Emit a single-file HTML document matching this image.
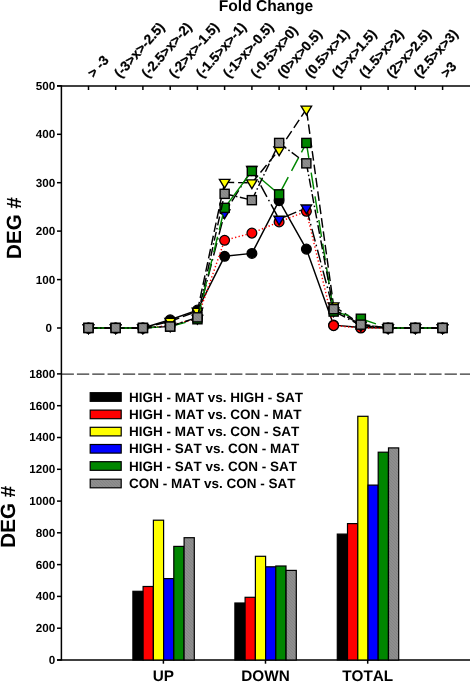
<!DOCTYPE html>
<html><head><meta charset="utf-8"><title>DEG chart</title>
<style>
html,body{margin:0;padding:0;background:#fff;}
body{width:470px;height:682px;overflow:hidden;font-family:"Liberation Sans",sans-serif;}
svg{display:block;}
text{font-kerning:none;text-rendering:geometricPrecision;font-feature-settings:'kern' 0;}
</style></head><body>
<svg width="470" height="682" viewBox="0 0 470 682">
<rect width="470" height="682" fill="#fff"/>
<defs><pattern id="hg" width="3" height="3" patternUnits="userSpaceOnUse"><rect width="3" height="3" fill="#8e8e8e"/><path d="M-1 -1 L4 4 M-1 2 L1 4 M2 -1 L4 1" stroke="#838383" stroke-width="0.8"/></pattern></defs>
<g stroke="#000" stroke-width="1.5" fill="none">
<line x1="61.4" y1="85.3" x2="61.4" y2="660.4"/>
<line x1="57" y1="85.9" x2="470" y2="85.9"/>
<line x1="57" y1="660.0" x2="470" y2="660.0"/>
<line x1="88.5" y1="85.9" x2="88.5" y2="90.0"/>
<line x1="115.7" y1="85.9" x2="115.7" y2="90.0"/>
<line x1="142.9" y1="85.9" x2="142.9" y2="90.0"/>
<line x1="170.2" y1="85.9" x2="170.2" y2="90.0"/>
<line x1="197.4" y1="85.9" x2="197.4" y2="90.0"/>
<line x1="224.6" y1="85.9" x2="224.6" y2="90.0"/>
<line x1="251.9" y1="85.9" x2="251.9" y2="90.0"/>
<line x1="279.1" y1="85.9" x2="279.1" y2="90.0"/>
<line x1="306.4" y1="85.9" x2="306.4" y2="90.0"/>
<line x1="333.6" y1="85.9" x2="333.6" y2="90.0"/>
<line x1="360.8" y1="85.9" x2="360.8" y2="90.0"/>
<line x1="388.1" y1="85.9" x2="388.1" y2="90.0"/>
<line x1="415.3" y1="85.9" x2="415.3" y2="90.0"/>
<line x1="442.6" y1="85.9" x2="442.6" y2="90.0"/>
<line x1="57" y1="328.0" x2="61.4" y2="328.0"/>
<line x1="57" y1="279.6" x2="61.4" y2="279.6"/>
<line x1="57" y1="231.1" x2="61.4" y2="231.1"/>
<line x1="57" y1="182.7" x2="61.4" y2="182.7"/>
<line x1="57" y1="134.3" x2="61.4" y2="134.3"/>
<line x1="57" y1="85.8" x2="61.4" y2="85.8"/>
<line x1="57" y1="660.0" x2="61.4" y2="660.0"/>
<line x1="57" y1="628.2" x2="61.4" y2="628.2"/>
<line x1="57" y1="596.4" x2="61.4" y2="596.4"/>
<line x1="57" y1="564.6" x2="61.4" y2="564.6"/>
<line x1="57" y1="532.8" x2="61.4" y2="532.8"/>
<line x1="57" y1="501.1" x2="61.4" y2="501.1"/>
<line x1="57" y1="469.3" x2="61.4" y2="469.3"/>
<line x1="57" y1="437.5" x2="61.4" y2="437.5"/>
<line x1="57" y1="405.7" x2="61.4" y2="405.7"/>
<line x1="57" y1="373.9" x2="61.4" y2="373.9"/>
<line x1="163.4" y1="660" x2="163.4" y2="663.7"/>
<line x1="265.5" y1="660" x2="265.5" y2="663.7"/>
<line x1="367.7" y1="660" x2="367.7" y2="663.7"/>
</g>
<line x1="61.6" y1="374.1" x2="470" y2="374.1" stroke="#000" stroke-width="1" stroke-dasharray="12.3,3.02"/>
<g font-family="Liberation Sans, sans-serif" font-weight="bold" font-size="11.7px" text-anchor="end" fill="#000" style="filter:grayscale(1)">
<text x="52.1" y="331.9">0</text>
<text x="55.3" y="283.5">100</text>
<text x="55.3" y="235.0">200</text>
<text x="55.3" y="186.6">300</text>
<text x="55.3" y="138.2">400</text>
<text x="55.3" y="89.8">500</text>
<text x="55.3" y="663.9">0</text>
<text x="55.3" y="632.1">200</text>
<text x="55.3" y="600.3">400</text>
<text x="55.3" y="568.5">600</text>
<text x="55.3" y="536.7">800</text>
<text x="55.3" y="505.0">1000</text>
<text x="55.3" y="473.2">1200</text>
<text x="55.3" y="441.4">1400</text>
<text x="55.3" y="409.6">1600</text>
<text x="55.3" y="377.8">1800</text>
</g>
<g font-family="Liberation Sans, sans-serif" font-weight="bold" fill="#000" style="filter:grayscale(1)">
<text x="266" y="11.3" font-size="15.6px" text-anchor="middle">Fold Change</text>
<text transform="translate(21.4,228) rotate(-90)" font-size="20.6px" text-anchor="middle">DEG #</text>
<text transform="translate(15.3,516.8) rotate(-90)" font-size="20.6px" text-anchor="middle">DEG #</text>
<text x="163.4" y="681.2" font-size="15.3px" text-anchor="middle">UP</text>
<text x="265.5" y="681.2" font-size="15.3px" text-anchor="middle">DOWN</text>
<text x="367.7" y="681.2" font-size="15.3px" text-anchor="middle">TOTAL</text>
<text transform="translate(93.8,78.5) rotate(-48.5)" font-size="13.6px" stroke="#000" stroke-width="0.25">&gt; -3</text>
<text transform="translate(120.2,78.5) rotate(-48.5)" font-size="13.6px" stroke="#000" stroke-width="0.25">(-3&gt;x&gt;-2.5)</text>
<text transform="translate(147.4,78.5) rotate(-48.5)" font-size="13.6px" stroke="#000" stroke-width="0.25">(-2.5&gt;x&gt;-2)</text>
<text transform="translate(174.7,78.5) rotate(-48.5)" font-size="13.6px" stroke="#000" stroke-width="0.25">(-2&gt;x&gt;-1.5)</text>
<text transform="translate(201.9,78.5) rotate(-48.5)" font-size="13.6px" stroke="#000" stroke-width="0.25">(-1.5&gt;x&gt;-1)</text>
<text transform="translate(229.1,78.5) rotate(-48.5)" font-size="13.6px" stroke="#000" stroke-width="0.25">(-1&gt;x&gt;-0.5)</text>
<text transform="translate(256.4,78.5) rotate(-48.5)" font-size="13.6px" stroke="#000" stroke-width="0.25">(-0.5&gt;x&gt;0)</text>
<text transform="translate(283.6,78.5) rotate(-48.5)" font-size="13.6px" stroke="#000" stroke-width="0.25">(0&gt;x&gt;0.5)</text>
<text transform="translate(310.9,78.5) rotate(-48.5)" font-size="13.6px" stroke="#000" stroke-width="0.25">(0.5&gt;x&gt;1)</text>
<text transform="translate(338.1,78.5) rotate(-48.5)" font-size="13.6px" stroke="#000" stroke-width="0.25">(1&gt;x&gt;1.5)</text>
<text transform="translate(365.3,78.5) rotate(-48.5)" font-size="13.6px" stroke="#000" stroke-width="0.25">(1.5&gt;x&gt;2)</text>
<text transform="translate(392.6,78.5) rotate(-48.5)" font-size="13.6px" stroke="#000" stroke-width="0.25">(2&gt;x&gt;2.5)</text>
<text transform="translate(419.8,78.5) rotate(-48.5)" font-size="13.6px" stroke="#000" stroke-width="0.25">(2.5&gt;x&gt;3)</text>
<text transform="translate(447.1,78.5) rotate(-48.5)" font-size="13.6px" stroke="#000" stroke-width="0.25">&gt;3</text>
</g>
<polyline points="88.5,328.0 115.7,328.0 142.9,328.0 170.2,319.8 197.4,310.1 224.6,256.3 251.9,253.4 279.1,200.6 306.4,249.1 333.6,325.1 360.8,327.5 388.1,328.0 415.3,328.0 442.6,328.0" fill="none" stroke="#000" stroke-width="1.45" stroke-linejoin="round"/>
<circle cx="88.5" cy="328.0" r="4.9" fill="#000" stroke="#000" stroke-width="1.25"/><circle cx="115.7" cy="328.0" r="4.9" fill="#000" stroke="#000" stroke-width="1.25"/><circle cx="142.9" cy="328.0" r="4.9" fill="#000" stroke="#000" stroke-width="1.25"/><circle cx="170.2" cy="319.8" r="4.9" fill="#000" stroke="#000" stroke-width="1.25"/><circle cx="197.4" cy="310.1" r="4.9" fill="#000" stroke="#000" stroke-width="1.25"/><circle cx="224.6" cy="256.3" r="4.9" fill="#000" stroke="#000" stroke-width="1.25"/><circle cx="251.9" cy="253.4" r="4.9" fill="#000" stroke="#000" stroke-width="1.25"/><circle cx="279.1" cy="200.6" r="4.9" fill="#000" stroke="#000" stroke-width="1.25"/><circle cx="306.4" cy="249.1" r="4.9" fill="#000" stroke="#000" stroke-width="1.25"/><circle cx="333.6" cy="325.1" r="4.9" fill="#000" stroke="#000" stroke-width="1.25"/><circle cx="360.8" cy="327.5" r="4.9" fill="#000" stroke="#000" stroke-width="1.25"/><circle cx="388.1" cy="328.0" r="4.9" fill="#000" stroke="#000" stroke-width="1.25"/><circle cx="415.3" cy="328.0" r="4.9" fill="#000" stroke="#000" stroke-width="1.25"/><circle cx="442.6" cy="328.0" r="4.9" fill="#000" stroke="#000" stroke-width="1.25"/>
<line x1="88.5" y1="328.0" x2="115.7" y2="328.0" stroke="#f00" stroke-width="1.45" stroke-dasharray="1.3,2.3" stroke-dashoffset="0"/><line x1="115.7" y1="328.0" x2="142.9" y2="328.0" stroke="#f00" stroke-width="1.45" stroke-dasharray="1.3,2.3" stroke-dashoffset="0"/><line x1="142.9" y1="328.0" x2="170.2" y2="325.6" stroke="#f00" stroke-width="1.45" stroke-dasharray="1.3,2.3" stroke-dashoffset="0"/><line x1="170.2" y1="325.6" x2="197.4" y2="318.3" stroke="#f00" stroke-width="1.45" stroke-dasharray="1.3,2.3" stroke-dashoffset="0"/><line x1="197.4" y1="318.3" x2="224.6" y2="240.3" stroke="#f00" stroke-width="1.45" stroke-dasharray="1.3,2.3" stroke-dashoffset="0"/><line x1="224.6" y1="240.3" x2="251.9" y2="233.1" stroke="#f00" stroke-width="1.45" stroke-dasharray="1.3,2.3" stroke-dashoffset="0"/><line x1="251.9" y1="233.1" x2="279.1" y2="221.9" stroke="#f00" stroke-width="1.45" stroke-dasharray="1.3,2.3" stroke-dashoffset="0"/><line x1="279.1" y1="221.9" x2="306.4" y2="211.3" stroke="#f00" stroke-width="1.45" stroke-dasharray="1.3,2.3" stroke-dashoffset="0"/><line x1="306.4" y1="211.3" x2="333.6" y2="325.6" stroke="#f00" stroke-width="1.45" stroke-dasharray="1.3,2.3" stroke-dashoffset="0"/><line x1="333.6" y1="325.6" x2="360.8" y2="328.0" stroke="#f00" stroke-width="1.45" stroke-dasharray="1.3,2.3" stroke-dashoffset="0"/><line x1="360.8" y1="328.0" x2="388.1" y2="328.0" stroke="#f00" stroke-width="1.45" stroke-dasharray="1.3,2.3" stroke-dashoffset="0"/><line x1="388.1" y1="328.0" x2="415.3" y2="328.0" stroke="#f00" stroke-width="1.45" stroke-dasharray="1.3,2.3" stroke-dashoffset="0"/><line x1="415.3" y1="328.0" x2="442.6" y2="328.0" stroke="#f00" stroke-width="1.45" stroke-dasharray="1.3,2.3" stroke-dashoffset="0"/>
<circle cx="88.5" cy="328.0" r="4.9" fill="#f00" stroke="#000" stroke-width="1.25"/><circle cx="115.7" cy="328.0" r="4.9" fill="#f00" stroke="#000" stroke-width="1.25"/><circle cx="142.9" cy="328.0" r="4.9" fill="#f00" stroke="#000" stroke-width="1.25"/><circle cx="170.2" cy="325.6" r="4.9" fill="#f00" stroke="#000" stroke-width="1.25"/><circle cx="197.4" cy="318.3" r="4.9" fill="#f00" stroke="#000" stroke-width="1.25"/><circle cx="224.6" cy="240.3" r="4.9" fill="#f00" stroke="#000" stroke-width="1.25"/><circle cx="251.9" cy="233.1" r="4.9" fill="#f00" stroke="#000" stroke-width="1.25"/><circle cx="279.1" cy="221.9" r="4.9" fill="#f00" stroke="#000" stroke-width="1.25"/><circle cx="306.4" cy="211.3" r="4.9" fill="#f00" stroke="#000" stroke-width="1.25"/><circle cx="333.6" cy="325.6" r="4.9" fill="#f00" stroke="#000" stroke-width="1.25"/><circle cx="360.8" cy="328.0" r="4.9" fill="#f00" stroke="#000" stroke-width="1.25"/><circle cx="388.1" cy="328.0" r="4.9" fill="#f00" stroke="#000" stroke-width="1.25"/><circle cx="415.3" cy="328.0" r="4.9" fill="#f00" stroke="#000" stroke-width="1.25"/><circle cx="442.6" cy="328.0" r="4.9" fill="#f00" stroke="#000" stroke-width="1.25"/>
<line x1="88.5" y1="328.0" x2="115.7" y2="328.0" stroke="#000" stroke-width="1.45" stroke-dasharray="9.6,3.9" stroke-dashoffset="0"/><line x1="115.7" y1="328.0" x2="142.9" y2="328.0" stroke="#000" stroke-width="1.45" stroke-dasharray="9.6,3.9" stroke-dashoffset="0"/><line x1="142.9" y1="328.0" x2="170.2" y2="321.4" stroke="#000" stroke-width="1.45" stroke-dasharray="9.6,3.9" stroke-dashoffset="0"/><line x1="170.2" y1="321.4" x2="197.4" y2="311.2" stroke="#000" stroke-width="1.45" stroke-dasharray="9.6,3.9" stroke-dashoffset="0"/><line x1="197.4" y1="311.2" x2="224.6" y2="182.4" stroke="#000" stroke-width="1.45" stroke-dasharray="9.6,3.9" stroke-dashoffset="0"/><line x1="224.6" y1="182.4" x2="251.9" y2="182.9" stroke="#000" stroke-width="1.45" stroke-dasharray="9.6,3.9" stroke-dashoffset="0"/><line x1="251.9" y1="182.9" x2="279.1" y2="149.9" stroke="#000" stroke-width="1.45" stroke-dasharray="9.6,3.9" stroke-dashoffset="0"/><line x1="279.1" y1="149.9" x2="306.4" y2="109.1" stroke="#000" stroke-width="1.45" stroke-dasharray="9.6,3.9" stroke-dashoffset="0.5"/><line x1="306.4" y1="109.1" x2="333.6" y2="305.9" stroke="#000" stroke-width="1.45" stroke-dasharray="9.6,3.9" stroke-dashoffset="11.5"/><line x1="333.6" y1="305.9" x2="360.8" y2="324.3" stroke="#000" stroke-width="1.45" stroke-dasharray="9.6,3.9" stroke-dashoffset="0"/><line x1="360.8" y1="324.3" x2="388.1" y2="328.0" stroke="#000" stroke-width="1.45" stroke-dasharray="9.6,3.9" stroke-dashoffset="0"/><line x1="388.1" y1="328.0" x2="415.3" y2="328.0" stroke="#000" stroke-width="1.45" stroke-dasharray="9.6,3.9" stroke-dashoffset="0"/><line x1="415.3" y1="328.0" x2="442.6" y2="328.0" stroke="#000" stroke-width="1.45" stroke-dasharray="9.6,3.9" stroke-dashoffset="0"/>
<path d="M83.2 325.0 L93.7 325.0 L88.5 333.8 Z" fill="#ff0" stroke="#000" stroke-width="1.35" stroke-linejoin="miter"/><path d="M110.4 325.0 L120.9 325.0 L115.7 333.8 Z" fill="#ff0" stroke="#000" stroke-width="1.35" stroke-linejoin="miter"/><path d="M137.7 325.0 L148.2 325.0 L142.9 333.8 Z" fill="#ff0" stroke="#000" stroke-width="1.35" stroke-linejoin="miter"/><path d="M164.9 318.4 L175.4 318.4 L170.2 327.2 Z" fill="#ff0" stroke="#000" stroke-width="1.35" stroke-linejoin="miter"/><path d="M192.2 308.2 L202.7 308.2 L197.4 317.0 Z" fill="#ff0" stroke="#000" stroke-width="1.35" stroke-linejoin="miter"/><path d="M219.4 179.4 L229.9 179.4 L224.6 188.2 Z" fill="#ff0" stroke="#000" stroke-width="1.35" stroke-linejoin="miter"/><path d="M246.6 179.9 L257.1 179.9 L251.9 188.7 Z" fill="#ff0" stroke="#000" stroke-width="1.35" stroke-linejoin="miter"/><path d="M273.9 146.9 L284.4 146.9 L279.1 155.7 Z" fill="#ff0" stroke="#000" stroke-width="1.35" stroke-linejoin="miter"/><path d="M301.1 106.1 L311.6 106.1 L306.4 114.9 Z" fill="#ff0" stroke="#000" stroke-width="1.35" stroke-linejoin="miter"/><path d="M328.4 302.9 L338.9 302.9 L333.6 311.7 Z" fill="#ff0" stroke="#000" stroke-width="1.35" stroke-linejoin="miter"/><path d="M355.6 321.3 L366.1 321.3 L360.8 330.1 Z" fill="#ff0" stroke="#000" stroke-width="1.35" stroke-linejoin="miter"/><path d="M382.8 325.0 L393.3 325.0 L388.1 333.8 Z" fill="#ff0" stroke="#000" stroke-width="1.35" stroke-linejoin="miter"/><path d="M410.1 325.0 L420.6 325.0 L415.3 333.8 Z" fill="#ff0" stroke="#000" stroke-width="1.35" stroke-linejoin="miter"/><path d="M437.3 325.0 L447.8 325.0 L442.6 333.8 Z" fill="#ff0" stroke="#000" stroke-width="1.35" stroke-linejoin="miter"/>
<line x1="88.5" y1="328.0" x2="115.7" y2="328.0" stroke="#000" stroke-width="1.45" stroke-dasharray="13,3.4,1.6,3.6" stroke-dashoffset="0"/><line x1="115.7" y1="328.0" x2="142.9" y2="328.0" stroke="#000" stroke-width="1.45" stroke-dasharray="13,3.4,1.6,3.6" stroke-dashoffset="0"/><line x1="142.9" y1="328.0" x2="170.2" y2="326.1" stroke="#000" stroke-width="1.45" stroke-dasharray="13,3.4,1.6,3.6" stroke-dashoffset="0"/><line x1="170.2" y1="326.1" x2="197.4" y2="318.3" stroke="#000" stroke-width="1.45" stroke-dasharray="13,3.4,1.6,3.6" stroke-dashoffset="0"/><line x1="197.4" y1="318.3" x2="224.6" y2="212.9" stroke="#000" stroke-width="1.45" stroke-dasharray="13,3.4,1.6,3.6" stroke-dashoffset="0"/><line x1="224.6" y1="212.9" x2="251.9" y2="169.3" stroke="#000" stroke-width="1.45" stroke-dasharray="13,3.4,1.6,3.6" stroke-dashoffset="8"/><line x1="251.9" y1="169.3" x2="279.1" y2="219.2" stroke="#000" stroke-width="1.45" stroke-dasharray="13,3.4,1.6,3.6" stroke-dashoffset="3.2"/><line x1="279.1" y1="219.2" x2="306.4" y2="208.0" stroke="#000" stroke-width="1.45" stroke-dasharray="13,3.4,1.6,3.6" stroke-dashoffset="16.1"/><line x1="306.4" y1="208.0" x2="333.6" y2="311.0" stroke="#000" stroke-width="1.45" stroke-dasharray="13,3.4,1.6,3.6" stroke-dashoffset="0"/><line x1="333.6" y1="311.0" x2="360.8" y2="325.6" stroke="#000" stroke-width="1.45" stroke-dasharray="13,3.4,1.6,3.6" stroke-dashoffset="0"/><line x1="360.8" y1="325.6" x2="388.1" y2="328.0" stroke="#000" stroke-width="1.45" stroke-dasharray="13,3.4,1.6,3.6" stroke-dashoffset="0"/><line x1="388.1" y1="328.0" x2="415.3" y2="328.0" stroke="#000" stroke-width="1.45" stroke-dasharray="13,3.4,1.6,3.6" stroke-dashoffset="0"/><line x1="415.3" y1="328.0" x2="442.6" y2="328.0" stroke="#000" stroke-width="1.45" stroke-dasharray="13,3.4,1.6,3.6" stroke-dashoffset="0"/>
<path d="M83.2 325.0 L93.7 325.0 L88.5 333.8 Z" fill="#00f" stroke="#000" stroke-width="1.35" stroke-linejoin="miter"/><path d="M110.4 325.0 L120.9 325.0 L115.7 333.8 Z" fill="#00f" stroke="#000" stroke-width="1.35" stroke-linejoin="miter"/><path d="M137.7 325.0 L148.2 325.0 L142.9 333.8 Z" fill="#00f" stroke="#000" stroke-width="1.35" stroke-linejoin="miter"/><path d="M164.9 323.1 L175.4 323.1 L170.2 331.9 Z" fill="#00f" stroke="#000" stroke-width="1.35" stroke-linejoin="miter"/><path d="M192.2 315.3 L202.7 315.3 L197.4 324.1 Z" fill="#00f" stroke="#000" stroke-width="1.35" stroke-linejoin="miter"/><path d="M219.4 209.9 L229.9 209.9 L224.6 218.7 Z" fill="#00f" stroke="#000" stroke-width="1.35" stroke-linejoin="miter"/><path d="M246.6 166.3 L257.1 166.3 L251.9 175.1 Z" fill="#00f" stroke="#000" stroke-width="1.35" stroke-linejoin="miter"/><path d="M273.9 216.2 L284.4 216.2 L279.1 225.0 Z" fill="#00f" stroke="#000" stroke-width="1.35" stroke-linejoin="miter"/><path d="M301.1 205.0 L311.6 205.0 L306.4 213.8 Z" fill="#00f" stroke="#000" stroke-width="1.35" stroke-linejoin="miter"/><path d="M328.4 308.0 L338.9 308.0 L333.6 316.8 Z" fill="#00f" stroke="#000" stroke-width="1.35" stroke-linejoin="miter"/><path d="M355.6 322.6 L366.1 322.6 L360.8 331.4 Z" fill="#00f" stroke="#000" stroke-width="1.35" stroke-linejoin="miter"/><path d="M382.8 325.0 L393.3 325.0 L388.1 333.8 Z" fill="#00f" stroke="#000" stroke-width="1.35" stroke-linejoin="miter"/><path d="M410.1 325.0 L420.6 325.0 L415.3 333.8 Z" fill="#00f" stroke="#000" stroke-width="1.35" stroke-linejoin="miter"/><path d="M437.3 325.0 L447.8 325.0 L442.6 333.8 Z" fill="#00f" stroke="#000" stroke-width="1.35" stroke-linejoin="miter"/>
<line x1="88.5" y1="328.0" x2="115.7" y2="328.0" stroke="#008600" stroke-width="1.45" stroke-dasharray="16,7" stroke-dashoffset="0"/><line x1="115.7" y1="328.0" x2="142.9" y2="328.0" stroke="#008600" stroke-width="1.45" stroke-dasharray="16,7" stroke-dashoffset="0"/><line x1="142.9" y1="328.0" x2="170.2" y2="326.5" stroke="#008600" stroke-width="1.45" stroke-dasharray="16,7" stroke-dashoffset="0"/><line x1="170.2" y1="326.5" x2="197.4" y2="319.3" stroke="#008600" stroke-width="1.45" stroke-dasharray="16,7" stroke-dashoffset="0"/><line x1="197.4" y1="319.3" x2="224.6" y2="207.9" stroke="#008600" stroke-width="1.45" stroke-dasharray="16,7" stroke-dashoffset="0"/><line x1="224.6" y1="207.9" x2="251.9" y2="171.1" stroke="#008600" stroke-width="1.45" stroke-dasharray="60,1" stroke-dashoffset="0"/><line x1="251.9" y1="171.1" x2="279.1" y2="194.3" stroke="#008600" stroke-width="1.45" stroke-dasharray="0,9.8,30" stroke-dashoffset="0"/><line x1="279.1" y1="194.3" x2="306.4" y2="143.0" stroke="#008600" stroke-width="1.45" stroke-dasharray="19.5,7,15,6,12" stroke-dashoffset="0"/><line x1="306.4" y1="143.0" x2="333.6" y2="311.5" stroke="#008600" stroke-width="1.45" stroke-dasharray="15,15,17,7,17,7,17,7,17,7,17,7,17,7" stroke-dashoffset="0"/><line x1="333.6" y1="311.5" x2="360.8" y2="318.8" stroke="#008600" stroke-width="1.45" stroke-dasharray="16,7" stroke-dashoffset="0"/><line x1="360.8" y1="318.8" x2="388.1" y2="328.0" stroke="#008600" stroke-width="1.45" stroke-dasharray="16,7" stroke-dashoffset="0"/><line x1="388.1" y1="328.0" x2="415.3" y2="328.0" stroke="#008600" stroke-width="1.45" stroke-dasharray="16,7" stroke-dashoffset="0"/><line x1="415.3" y1="328.0" x2="442.6" y2="328.0" stroke="#008600" stroke-width="1.45" stroke-dasharray="16,7" stroke-dashoffset="0"/>
<rect x="83.9" y="323.4" width="9.1" height="9.1" fill="#008600" stroke="#000" stroke-width="1.4"/><rect x="111.1" y="323.4" width="9.1" height="9.1" fill="#008600" stroke="#000" stroke-width="1.4"/><rect x="138.4" y="323.4" width="9.1" height="9.1" fill="#008600" stroke="#000" stroke-width="1.4"/><rect x="165.6" y="322.0" width="9.1" height="9.1" fill="#008600" stroke="#000" stroke-width="1.4"/><rect x="192.9" y="314.7" width="9.1" height="9.1" fill="#008600" stroke="#000" stroke-width="1.4"/><rect x="220.1" y="203.3" width="9.1" height="9.1" fill="#008600" stroke="#000" stroke-width="1.4"/><rect x="247.3" y="166.5" width="9.1" height="9.1" fill="#008600" stroke="#000" stroke-width="1.4"/><rect x="274.6" y="189.8" width="9.1" height="9.1" fill="#008600" stroke="#000" stroke-width="1.4"/><rect x="301.8" y="138.4" width="9.1" height="9.1" fill="#008600" stroke="#000" stroke-width="1.4"/><rect x="329.1" y="307.0" width="9.1" height="9.1" fill="#008600" stroke="#000" stroke-width="1.4"/><rect x="356.3" y="314.2" width="9.1" height="9.1" fill="#008600" stroke="#000" stroke-width="1.4"/><rect x="383.5" y="323.4" width="9.1" height="9.1" fill="#008600" stroke="#000" stroke-width="1.4"/><rect x="410.8" y="323.4" width="9.1" height="9.1" fill="#008600" stroke="#000" stroke-width="1.4"/><rect x="438.0" y="323.4" width="9.1" height="9.1" fill="#008600" stroke="#000" stroke-width="1.4"/>
<line x1="88.5" y1="328.0" x2="115.7" y2="328.0" stroke="#000" stroke-width="1.45" stroke-dasharray="9,2.6,1.5,2.6" stroke-dashoffset="0"/><line x1="115.7" y1="328.0" x2="142.9" y2="328.0" stroke="#000" stroke-width="1.45" stroke-dasharray="9,2.6,1.5,2.6" stroke-dashoffset="0"/><line x1="142.9" y1="328.0" x2="170.2" y2="326.5" stroke="#000" stroke-width="1.45" stroke-dasharray="9,2.6,1.5,2.6" stroke-dashoffset="0"/><line x1="170.2" y1="326.5" x2="197.4" y2="317.3" stroke="#000" stroke-width="1.45" stroke-dasharray="9,2.6,1.5,2.6" stroke-dashoffset="0"/><line x1="197.4" y1="317.3" x2="224.6" y2="193.8" stroke="#000" stroke-width="1.45" stroke-dasharray="9,2.6,1.5,2.6" stroke-dashoffset="0"/><line x1="224.6" y1="193.8" x2="251.9" y2="200.1" stroke="#000" stroke-width="1.45" stroke-dasharray="9,2.6,1.5,2.6" stroke-dashoffset="0"/><line x1="251.9" y1="200.1" x2="279.1" y2="143.0" stroke="#000" stroke-width="1.45" stroke-dasharray="9,2.6,1.5,2.6" stroke-dashoffset="0"/><line x1="279.1" y1="143.0" x2="306.4" y2="163.3" stroke="#000" stroke-width="1.45" stroke-dasharray="9,2.6,1.5,2.6" stroke-dashoffset="0"/><line x1="306.4" y1="163.3" x2="333.6" y2="309.1" stroke="#000" stroke-width="1.45" stroke-dasharray="9,2.6,1.5,2.6" stroke-dashoffset="0"/><line x1="333.6" y1="309.1" x2="360.8" y2="324.6" stroke="#000" stroke-width="1.45" stroke-dasharray="9,2.6,1.5,2.6" stroke-dashoffset="0"/><line x1="360.8" y1="324.6" x2="388.1" y2="328.0" stroke="#000" stroke-width="1.45" stroke-dasharray="9,2.6,1.5,2.6" stroke-dashoffset="0"/><line x1="388.1" y1="328.0" x2="415.3" y2="328.0" stroke="#000" stroke-width="1.45" stroke-dasharray="9,2.6,1.5,2.6" stroke-dashoffset="0"/><line x1="415.3" y1="328.0" x2="442.6" y2="328.0" stroke="#000" stroke-width="1.45" stroke-dasharray="9,2.6,1.5,2.6" stroke-dashoffset="0"/>
<rect x="83.9" y="323.4" width="9.1" height="9.1" fill="url(#hg)" stroke="#000" stroke-width="1.4"/><rect x="111.1" y="323.4" width="9.1" height="9.1" fill="url(#hg)" stroke="#000" stroke-width="1.4"/><rect x="138.4" y="323.4" width="9.1" height="9.1" fill="url(#hg)" stroke="#000" stroke-width="1.4"/><rect x="165.6" y="322.0" width="9.1" height="9.1" fill="url(#hg)" stroke="#000" stroke-width="1.4"/><rect x="192.9" y="312.8" width="9.1" height="9.1" fill="url(#hg)" stroke="#000" stroke-width="1.4"/><rect x="220.1" y="189.3" width="9.1" height="9.1" fill="url(#hg)" stroke="#000" stroke-width="1.4"/><rect x="247.3" y="195.6" width="9.1" height="9.1" fill="url(#hg)" stroke="#000" stroke-width="1.4"/><rect x="274.6" y="138.4" width="9.1" height="9.1" fill="url(#hg)" stroke="#000" stroke-width="1.4"/><rect x="301.8" y="158.8" width="9.1" height="9.1" fill="url(#hg)" stroke="#000" stroke-width="1.4"/><rect x="329.1" y="304.6" width="9.1" height="9.1" fill="url(#hg)" stroke="#000" stroke-width="1.4"/><rect x="356.3" y="320.1" width="9.1" height="9.1" fill="url(#hg)" stroke="#000" stroke-width="1.4"/><rect x="383.5" y="323.4" width="9.1" height="9.1" fill="url(#hg)" stroke="#000" stroke-width="1.4"/><rect x="410.8" y="323.4" width="9.1" height="9.1" fill="url(#hg)" stroke="#000" stroke-width="1.4"/><rect x="438.0" y="323.4" width="9.1" height="9.1" fill="url(#hg)" stroke="#000" stroke-width="1.4"/>
<rect x="132.9" y="591.3" width="10.2" height="68.7" fill="#000" stroke="#000" stroke-width="1.2"/>
<rect x="143.1" y="586.5" width="10.2" height="73.5" fill="#f00" stroke="#000" stroke-width="1.2"/>
<rect x="153.4" y="520.2" width="10.2" height="139.8" fill="#ff0" stroke="#000" stroke-width="1.2"/>
<rect x="163.6" y="578.6" width="10.2" height="81.4" fill="#00f" stroke="#000" stroke-width="1.2"/>
<rect x="173.8" y="546.4" width="10.2" height="113.6" fill="#008600" stroke="#000" stroke-width="1.2"/>
<rect x="184.1" y="537.7" width="10.2" height="122.3" fill="url(#hg)" stroke="#000" stroke-width="1.2"/>
<rect x="234.9" y="603.0" width="10.2" height="57.0" fill="#000" stroke="#000" stroke-width="1.2"/>
<rect x="245.1" y="597.3" width="10.2" height="62.7" fill="#f00" stroke="#000" stroke-width="1.2"/>
<rect x="255.4" y="556.3" width="10.2" height="103.7" fill="#ff0" stroke="#000" stroke-width="1.2"/>
<rect x="265.6" y="566.8" width="10.2" height="93.2" fill="#00f" stroke="#000" stroke-width="1.2"/>
<rect x="275.8" y="566.0" width="10.2" height="94.0" fill="#008600" stroke="#000" stroke-width="1.2"/>
<rect x="286.1" y="570.4" width="10.2" height="89.6" fill="url(#hg)" stroke="#000" stroke-width="1.2"/>
<rect x="337.3" y="534.1" width="10.2" height="125.9" fill="#000" stroke="#000" stroke-width="1.2"/>
<rect x="347.5" y="523.6" width="10.2" height="136.4" fill="#f00" stroke="#000" stroke-width="1.2"/>
<rect x="357.8" y="416.3" width="10.2" height="243.7" fill="#ff0" stroke="#000" stroke-width="1.2"/>
<rect x="368.0" y="485.1" width="10.2" height="174.9" fill="#00f" stroke="#000" stroke-width="1.2"/>
<rect x="378.2" y="452.2" width="10.2" height="207.8" fill="#008600" stroke="#000" stroke-width="1.2"/>
<rect x="388.5" y="447.9" width="10.2" height="212.1" fill="url(#hg)" stroke="#000" stroke-width="1.2"/>
<rect x="90.2" y="392.7" width="31" height="8.6" fill="#000" stroke="#000" stroke-width="1.2"/>
<rect x="90.2" y="410.1" width="31" height="8.6" fill="#f00" stroke="#000" stroke-width="1.2"/>
<rect x="90.2" y="427.3" width="31" height="8.6" fill="#ff0" stroke="#000" stroke-width="1.2"/>
<rect x="90.2" y="444.5" width="31" height="8.6" fill="#00f" stroke="#000" stroke-width="1.2"/>
<rect x="90.2" y="461.7" width="31" height="8.6" fill="#008600" stroke="#000" stroke-width="1.2"/>
<rect x="90.2" y="479.2" width="31" height="8.6" fill="url(#hg)" stroke="#000" stroke-width="1.2"/>
<g font-family="Liberation Sans, sans-serif" font-weight="bold" font-size="13.5px" fill="#000" style="filter:grayscale(1)">
<text x="129" y="401.6">HIGH - MAT vs. HIGH - SAT</text>
<text x="129" y="419.0">HIGH - MAT vs. CON - MAT</text>
<text x="129" y="436.2">HIGH - MAT vs. CON - SAT</text>
<text x="129" y="453.4">HIGH - SAT vs. CON - MAT</text>
<text x="129" y="470.6">HIGH - SAT vs. CON - SAT</text>
<text x="129" y="488.1">CON - MAT vs. CON - SAT</text>
</g>
</svg>
</body></html>
